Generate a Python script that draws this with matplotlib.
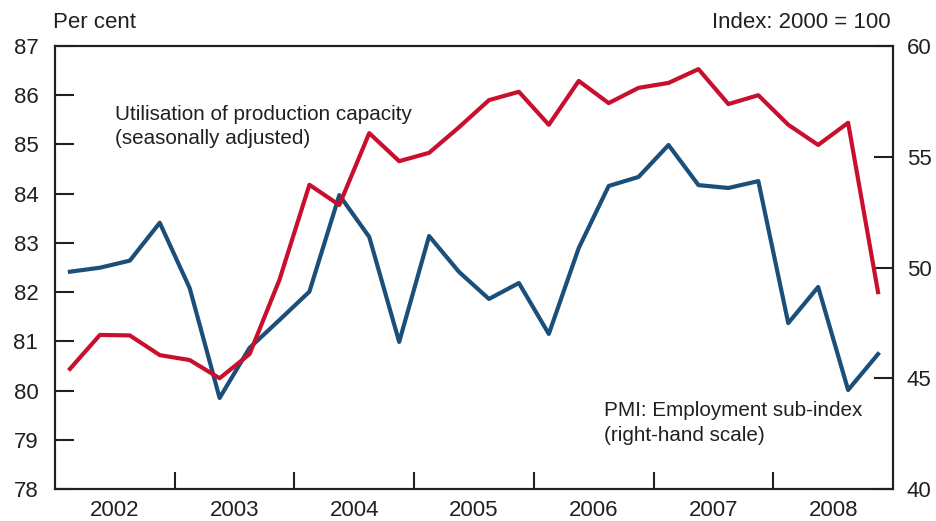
import numpy as np
import matplotlib.pyplot as plt

plt.rcParams['font.family'] = ['Liberation Sans', 'DejaVu Sans']

# Quarterly data, 2002 Q1 - 2008 Q4
quarters = np.arange(2002, 2009, 0.25) + 0.125

# Utilisation of production capacity, per cent (left axis)
utilisation = [80.44, 81.13, 81.12, 80.72, 80.62, 80.25, 80.74, 82.25,
               84.18, 83.77, 85.23, 84.66, 84.83, 85.35, 85.90, 86.07,
               85.40, 86.29, 85.84, 86.15, 86.25, 86.53, 85.82, 86.00,
               85.40, 84.99, 85.44, 82.00]

# PMI: Employment sub-index (right axis)
pmi_employment = [49.81, 49.99, 50.31, 52.02, 49.07, 44.11, 46.37, 47.63,
                  48.91, 53.27, 51.38, 46.64, 51.42, 49.80, 48.58, 49.30,
                  47.00, 50.88, 53.68, 54.09, 55.53, 53.72, 53.59, 53.90,
                  47.49, 49.12, 44.47, 46.09]

years = ['2002', '2003', '2004', '2005', '2006', '2007', '2008']

red = '#c8102e'
blue = '#1b4f7a'
txt = '#231f20'
fs = 16

fig = plt.figure(figsize=(9.36, 5.21), dpi=100)
ax = fig.add_axes([55 / 936, 1 - 489 / 521, 838 / 936, 443 / 521])
ax2 = ax.twinx()

ax.plot(quarters, utilisation, color=red, linewidth=3, zorder=3)
ax2.plot(quarters, pmi_employment, color=blue, linewidth=3, zorder=2)
ax.set_zorder(ax2.get_zorder() + 1)
ax.patch.set_visible(False)

ax.set_xlim(2002, 2009)
ax.set_ylim(78, 87)
ax2.set_ylim(40, 60)

ax.set_yticks(range(78, 88))
ax2.set_yticks([40, 45, 50, 55, 60])

ax.set_xticks(range(2003, 2009))
ax.set_xticklabels([])
ax.set_xticks(np.arange(2002.5, 2009, 1), minor=True)
ax.set_xticklabels(years, minor=True)

ax.tick_params(axis='x', which='major', direction='in', length=12, width=1.5, color=txt)
ax.tick_params(axis='x', which='minor', length=0, pad=8, labelsize=fs, labelcolor=txt)
ax.tick_params(axis='y', direction='in', length=14, width=1.5, color=txt,
               labelsize=fs, labelcolor=txt, pad=12)
ax2.tick_params(axis='y', direction='in', length=14, width=1.5, color=txt,
                labelsize=fs, labelcolor=txt, pad=10)

for a in (ax, ax2):
    for s in a.spines.values():
        s.set_linewidth(1.5)
        s.set_color(txt)

fig.text(53 / 936, 1 - 22 / 521, 'Per cent', ha='left', va='center',
         fontsize=fs, color=txt)
fig.text(891 / 936, 1 - 22 / 521, 'Index: 2000 = 100', ha='right', va='center',
         fontsize=fs, color=txt)

ax.text(2002.5, 85.8, 'Utilisation of production capacity\n(seasonally adjusted)',
        ha='left', va='top', fontsize=14.9, color=txt, linespacing=1.35)
ax.text(2006.59, 79.78, 'PMI: Employment sub-index\n(right-hand scale)',
        ha='left', va='top', fontsize=14.9, color=txt, linespacing=1.35)

fig.savefig('out.png', dpi=100)
